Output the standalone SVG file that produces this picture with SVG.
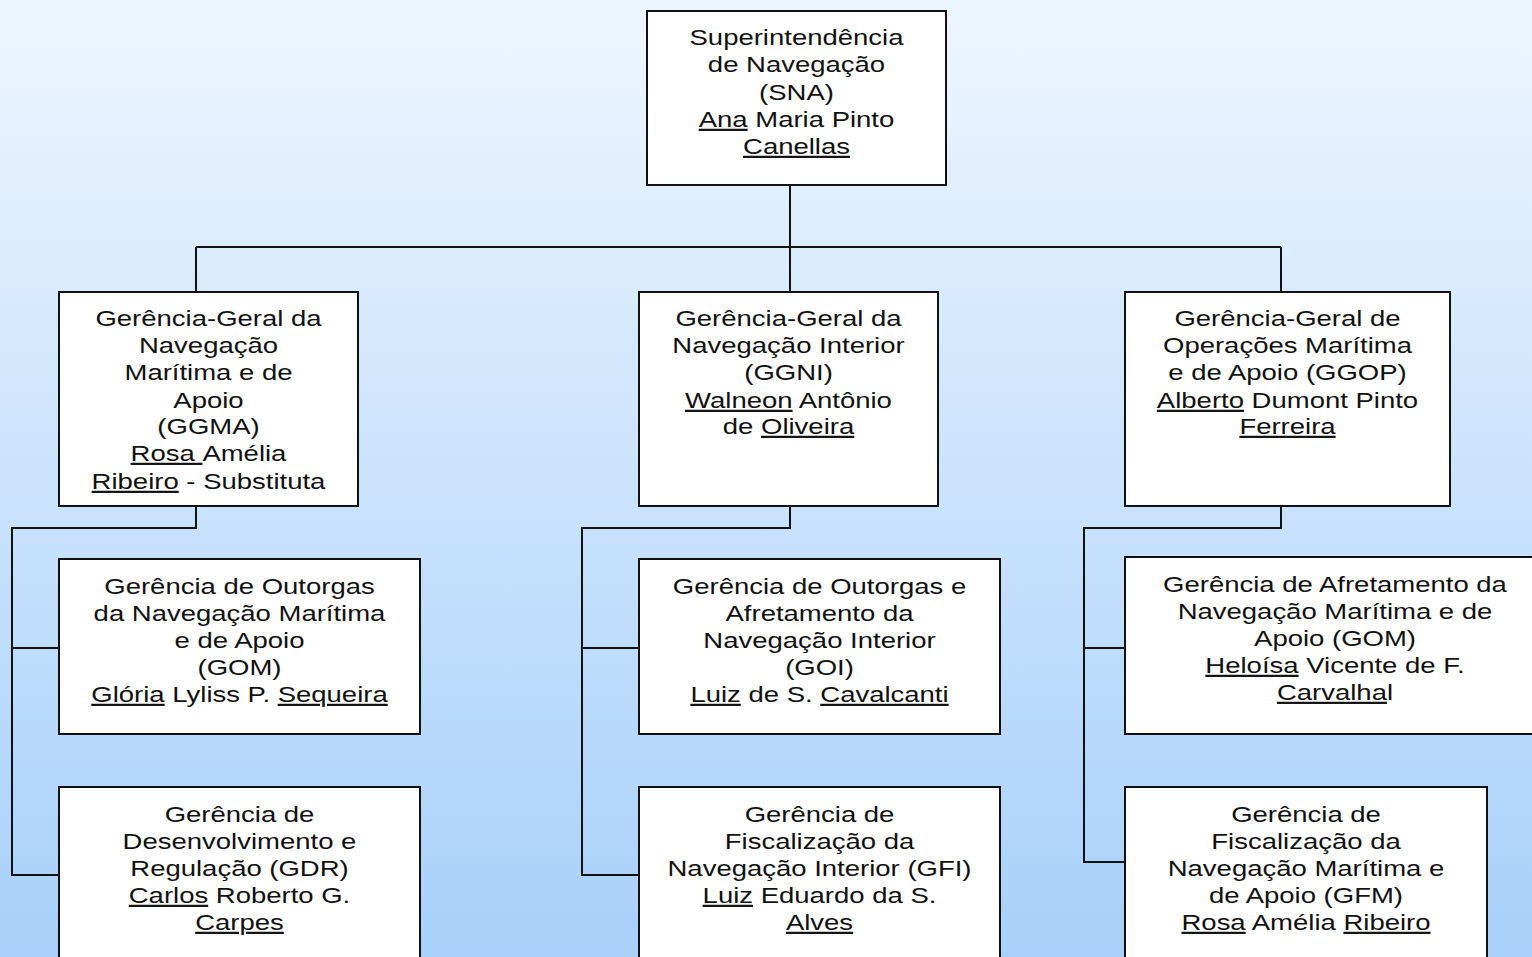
<svg xmlns="http://www.w3.org/2000/svg" width="1532" height="957" viewBox="0 0 1532 957">
<defs>
<linearGradient id="bg" x1="0" y1="0" x2="0" y2="1">
<stop offset="0" stop-color="#EEF6FF"/>
<stop offset="1" stop-color="#A8D0FA"/>
</linearGradient>
</defs>
<style>
.box{fill:#fff;stroke:#111;stroke-width:2}
.t{font-family:"Liberation Sans",Arial,sans-serif;font-size:22px;fill:#111;text-anchor:middle}
.u{text-decoration:underline}
.c{fill:none;stroke:#111;stroke-width:2}
</style>
<rect x="0" y="0" width="1532" height="957" fill="url(#bg)"/>
<g id="connectors">
<path class="c" d="M790,186V247M196,247H1281M196,247V292M790,247V292M1281,247V292"/>
<path class="c" d="M196,507V528H12V875H59M12,648H59"/>
<path class="c" d="M790,507V528H582V875H639M582,648H639"/>
<path class="c" d="M1281,507V528H1084V862H1125M1084,648H1125"/>
</g>
<g id="sna">
<rect class="box" x="647" y="11" width="299" height="174"/>
<text class="t" transform="translate(796.5,0) scale(1.25,1)"><tspan x="0" y="45">Superintendência</tspan><tspan x="0" y="72">de Navegação</tspan><tspan x="0" y="100">(SNA)</tspan><tspan x="0" y="127"><tspan class="u">Ana</tspan> Maria Pinto</tspan><tspan x="0" y="154"><tspan class="u">Canellas</tspan></tspan></text>
</g>
<g id="ggma">
<rect class="box" x="59" y="292" width="299" height="214"/>
<text class="t" transform="translate(208.5,0) scale(1.25,1)"><tspan x="0" y="326">Gerência-Geral da</tspan><tspan x="0" y="353">Navegação</tspan><tspan x="0" y="380">Marítima e de</tspan><tspan x="0" y="408">Apoio</tspan><tspan x="0" y="434">(GGMA)</tspan><tspan x="0" y="461"><tspan class="u">Rosa </tspan>Amélia</tspan><tspan x="0" y="489"><tspan class="u">Ribeiro</tspan> - Substituta</tspan></text>
</g>
<g id="ggni">
<rect class="box" x="639" y="292" width="299" height="214"/>
<text class="t" transform="translate(788.5,0) scale(1.25,1)"><tspan x="0" y="326">Gerência-Geral da</tspan><tspan x="0" y="353">Navegação Interior</tspan><tspan x="0" y="380">(GGNI)</tspan><tspan x="0" y="408"><tspan class="u">Walneon</tspan> Antônio</tspan><tspan x="0" y="434">de <tspan class="u">Oliveira</tspan></tspan></text>
</g>
<g id="ggop">
<rect class="box" x="1125" y="292" width="325" height="214"/>
<text class="t" transform="translate(1287.5,0) scale(1.25,1)"><tspan x="0" y="326">Gerência-Geral de</tspan><tspan x="0" y="353">Operações Marítima</tspan><tspan x="0" y="380">e de Apoio (GGOP)</tspan><tspan x="0" y="408"><tspan class="u">Alberto</tspan> Dumont Pinto</tspan><tspan x="0" y="434"><tspan class="u">Ferreira</tspan></tspan></text>
</g>
<g id="gom-left">
<rect class="box" x="59" y="559" width="361" height="175"/>
<text class="t" transform="translate(239.5,0) scale(1.25,1)"><tspan x="0" y="594">Gerência de Outorgas</tspan><tspan x="0" y="621">da Navegação Marítima</tspan><tspan x="0" y="648">e de Apoio</tspan><tspan x="0" y="675">(GOM)</tspan><tspan x="0" y="702"><tspan class="u">Glória</tspan> Lyliss P. <tspan class="u">Sequeira</tspan></tspan></text>
</g>
<g id="gdr">
<rect class="box" x="59" y="787" width="361" height="185"/>
<text class="t" transform="translate(239.5,0) scale(1.25,1)"><tspan x="0" y="822">Gerência de</tspan><tspan x="0" y="849">Desenvolvimento e</tspan><tspan x="0" y="876">Regulação (GDR)</tspan><tspan x="0" y="903"><tspan class="u">Carlos</tspan> Roberto G.</tspan><tspan x="0" y="930"><tspan class="u">Carpes</tspan></tspan></text>
</g>
<g id="goi">
<rect class="box" x="639" y="559" width="361" height="175"/>
<text class="t" transform="translate(819.5,0) scale(1.25,1)"><tspan x="0" y="594">Gerência de Outorgas e</tspan><tspan x="0" y="621">Afretamento da</tspan><tspan x="0" y="648">Navegação Interior</tspan><tspan x="0" y="675">(GOI)</tspan><tspan x="0" y="702"><tspan class="u">Luiz</tspan> de S. <tspan class="u">Cavalcanti</tspan></tspan></text>
</g>
<g id="gfi">
<rect class="box" x="639" y="787" width="361" height="185"/>
<text class="t" transform="translate(819.5,0) scale(1.25,1)"><tspan x="0" y="822">Gerência de</tspan><tspan x="0" y="849">Fiscalização da</tspan><tspan x="0" y="876">Navegação Interior (GFI)</tspan><tspan x="0" y="903"><tspan class="u">Luiz</tspan> Eduardo da S.</tspan><tspan x="0" y="930"><tspan class="u">Alves</tspan></tspan></text>
</g>
<g id="gom-right">
<rect class="box" x="1125" y="557" width="430" height="177"/>
<text class="t" transform="translate(1335,0) scale(1.25,1)"><tspan x="0" y="592">Gerência de Afretamento da</tspan><tspan x="0" y="619">Navegação Marítima e de</tspan><tspan x="0" y="646">Apoio (GOM)</tspan><tspan x="0" y="673"><tspan class="u">Heloísa</tspan> Vicente de F.</tspan><tspan x="0" y="700"><tspan class="u">Carvalha</tspan>l</tspan></text>
</g>
<g id="gfm">
<rect class="box" x="1125" y="787" width="362" height="185"/>
<text class="t" transform="translate(1306,0) scale(1.25,1)"><tspan x="0" y="822">Gerência de</tspan><tspan x="0" y="849">Fiscalização da</tspan><tspan x="0" y="876">Navegação Marítima e</tspan><tspan x="0" y="903">de Apoio (GFM)</tspan><tspan x="0" y="930"><tspan class="u">Rosa</tspan> Amélia <tspan class="u">Ribeiro</tspan></tspan></text>
</g>
</svg>
